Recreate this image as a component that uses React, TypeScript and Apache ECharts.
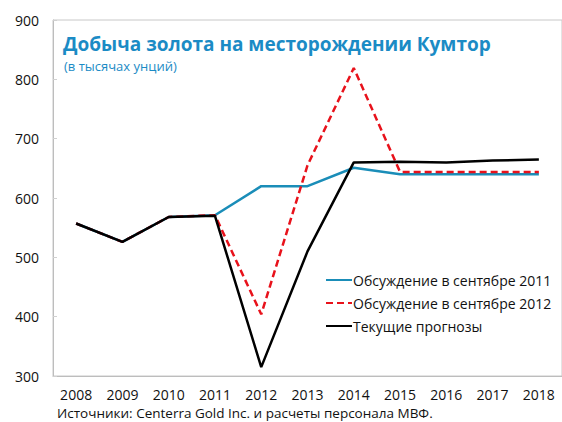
import React, { useEffect, useRef } from "react";
import * as echarts from "echarts";

const years = ["2008", "2009", "2010", "2011", "2012", "2013", "2014", "2015", "2016", "2017", "2018"];
const sept2011 = [557, 526, 568, 571, 620, 620, 651, 640, 640, 640, 640];
const sept2012 = [557, 526, 568, 571, 404, 655, 819, 644, 644, 644, 644];
const current = [557, 526, 568, 570, 315, 510, 660, 661, 660, 663, 665];
const seriesNames = ["Обсуждение в сентябре 2011", "Обсуждение в сентябре 2012", "Текущие прогнозы"];
const titleText = "Добыча золота на месторождении Кумтор";
const subtitleText = "(в тысячах унций)";
const sourceText = "Источники: Centerra Gold Inc. и расчеты персонала МВФ.";

const FONT = "'Open Sans', sans-serif";

export default function App() {
  const ref = useRef<HTMLDivElement>(null);
  useEffect(() => {
    if (!ref.current) return;
    const chart = echarts.init(ref.current, null, { renderer: "svg" });
    chart.setOption({
      animation: false,
      backgroundColor: "#ffffff",
      textStyle: { fontFamily: FONT },
      grid: { left: 53, top: 20, right: 0, bottom: 46, show: true, borderColor: "#c8c8c8", borderWidth: 1 },
      title: [
        { text: titleText, left: 58, top: 29, textStyle: { fontFamily: FONT, fontSize: 19, fontWeight: "bold", color: "#1b8bc5" } },
        { text: subtitleText, left: 59, top: 54, textStyle: { fontFamily: FONT, fontSize: 13, fontWeight: "normal", color: "#1b8bc5" } },
        { text: sourceText, left: 57, top: 405, padding: 0, textStyle: { fontFamily: FONT, fontSize: 13.5, lineHeight: 15, fontWeight: "normal", color: "#111" } },
      ],
      legend: {
        orient: "vertical",
        left: 320,
        top: 268,
        itemWidth: 26,
        itemHeight: 10,
        itemGap: 9,
        itemStyle: { opacity: 0 },
        textStyle: { fontFamily: FONT, fontSize: 14, color: "#111", padding: [0, 0, 0, -4] },
        data: seriesNames,
      },
      xAxis: {
        type: "category",
        data: years,
        boundaryGap: true,
        axisLine: { lineStyle: { color: "#bdbdbd" } },
        axisTick: { inside: true, length: 4, lineStyle: { color: "#d0d0d0" } },
        axisLabel: { fontFamily: FONT, fontSize: 14, lineHeight: 15, color: "#111", margin: 11 },
      },
      yAxis: {
        type: "value",
        min: 300,
        max: 900,
        interval: 100,
        splitLine: { show: false },
        axisLine: { show: true, lineStyle: { color: "#bdbdbd" } },
        axisTick: { show: true, inside: true, length: 4, lineStyle: { color: "#d0d0d0" } },
        axisLabel: { fontFamily: FONT, fontSize: 14, color: "#111", margin: 14 },
      },
      series: [
        { name: seriesNames[0], type: "line", data: sept2011, symbol: "none", lineStyle: { color: "#1a8db8", width: 2.5 }, itemStyle: { color: "#1a8db8" }, z: 2 },
        { name: seriesNames[1], type: "line", data: sept2012, symbol: "none", lineStyle: { color: "#e8121b", width: 2.5, type: [7, 4] }, itemStyle: { color: "#e8121b" }, z: 3 },
        { name: seriesNames[2], type: "line", data: current, symbol: "none", lineStyle: { color: "#000000", width: 2.5 }, itemStyle: { color: "#000000" }, z: 4 },
      ],
    });
    return () => chart.dispose();
  }, []);
  return <div ref={ref} style={{ width: 562, height: 422, position: "absolute", left: 0, top: 0 }} />;
}
